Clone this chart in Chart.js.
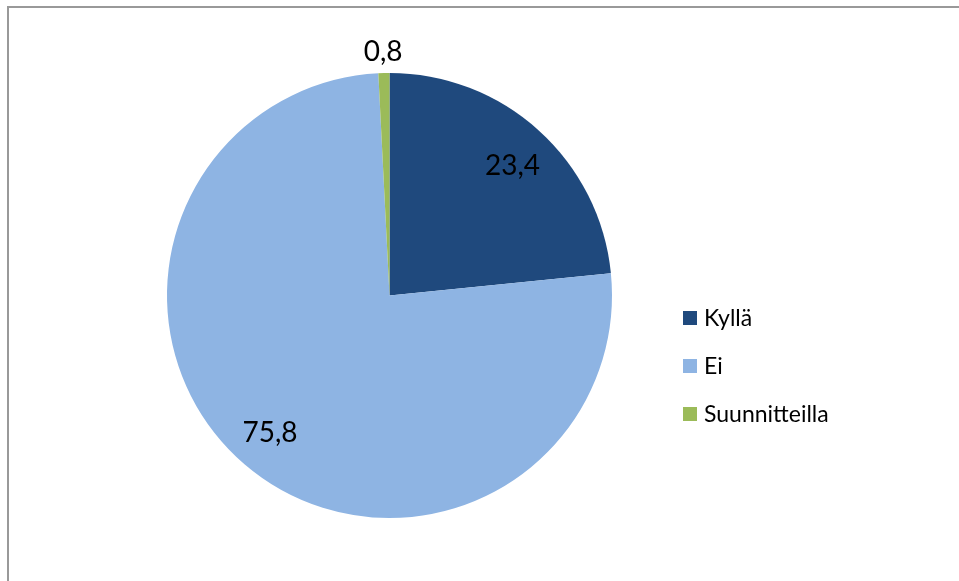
<!DOCTYPE html>
<html>
<head>
<meta charset="utf-8">
<script src="https://cdn.jsdelivr.net/npm/chart.js@4/dist/chart.umd.min.js"></script>
<style>
  html, body { margin: 0; padding: 0; background: #fff; }
  #wrap { position: relative; width: 959px; height: 581px; overflow: hidden; }
  #frame { position: absolute; left: 7px; top: 6px; width: 1000px; height: 700px;
           border-top: 2px solid #999; border-left: 2px solid #999; }
  canvas { position: absolute; left: 0; top: 0; }
</style>
</head>
<body>
<div id="wrap">
  <div id="frame"></div>
  <canvas id="myChart" width="959" height="581"></canvas>
</div>
<script>
const categories = ['Kyllä', 'Ei', 'Suunnitteilla'];
const values = [23.4, 75.8, 0.8];
const colors = ['#1F497D', '#8EB4E3', '#9BBB59'];

const fontFamily = 'Lato, "Open Sans", sans-serif';

// value labels inside the slices (small ones go outside)
const sliceLabels = {
    id: 'sliceLabels',
    afterDatasetsDraw(chart) {
        const ctx = chart.ctx;
        const meta = chart.getDatasetMeta(0);
        ctx.save();
        ctx.font = '28px ' + fontFamily;
        ctx.fillStyle = '#000';
        ctx.textAlign = 'center';
        ctx.textBaseline = 'middle';
        meta.data.forEach(function(arc, i) {
            const p = arc.getProps(['x', 'y', 'startAngle', 'endAngle', 'outerRadius'], true);
            const mid = (p.startAngle + p.endAngle) / 2;
            const r = values[i] < 5 ? p.outerRadius + 23 : p.outerRadius * 0.8;
            const x = p.x + Math.cos(mid) * r * 1.03;
            const y = p.y + Math.sin(mid) * r + 2;
            ctx.fillText(String(values[i]).replace('.', ','), x, y);
        });
        ctx.restore();
    }
};

// legend on the right
const sideLegend = {
    id: 'sideLegend',
    afterDraw(chart) {
        const ctx = chart.ctx;
        ctx.save();
        ctx.font = '23px ' + fontFamily;
        ctx.textBaseline = 'middle';
        categories.forEach(function(name, i) {
            const y = 318 + i * 48;
            ctx.fillStyle = colors[i];
            ctx.fillRect(683, y - 7, 14, 14);
            ctx.fillStyle = '#000';
            ctx.fillText(name, 704, y + 1);
        });
        ctx.restore();
    }
};

const ctx = document.getElementById('myChart').getContext('2d');
const myChart = new Chart(ctx, {
    type: 'pie',
    data: {
        labels: categories,
        datasets: [{
            data: values,
            backgroundColor: colors,
            borderWidth: 0
        }]
    },
    options: {
        responsive: false,
        animation: false,
        layout: {
            padding: { left: 167, right: 347, top: 73, bottom: 63 }
        },
        plugins: {
            legend: { display: false },
            tooltip: { enabled: false }
        }
    },
    plugins: [sliceLabels, sideLegend]
});
</script>
</body>
</html>
